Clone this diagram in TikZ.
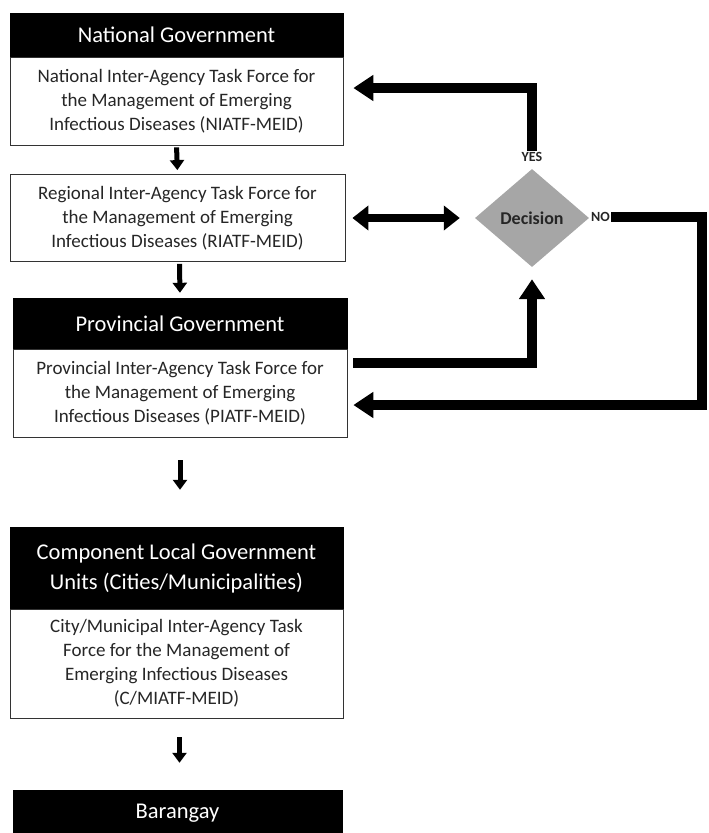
\documentclass[tikz,border=0pt]{standalone}
\usepackage{fontspec}
\setmainfont{Carlito}
\usetikzlibrary{shapes.geometric,arrows.meta,calc}
\begin{document}
\begin{tikzpicture}[x=1pt,y=-1pt,
  hdr/.style={fill=black,draw=black,text=white,inner sep=0pt,align=center,font=\fontsize{22.5}{30}\selectfont},
  body/.style={fill=white,draw=black!80,line width=0.8pt,inner sep=0pt,align=center,text=black!85,font=\fontsize{19}{24}\selectfont},
  big/.style={line width=10pt,-{Triangle[width=25pt,length=20pt]}},
  dbl/.style={line width=8pt,{Triangle[width=24pt,length=16pt]}-{Triangle[width=24pt,length=16pt]}},
  small/.style={line width=5pt,-{Triangle[width=14pt,length=10pt]}},
  lab/.style={font=\bfseries\fontsize{14}{16}\selectfont,text=black!85,inner sep=1pt}]
\useasboundingbox (0,0) rectangle (709,833);
% boxes
\node[hdr,minimum width=333pt,minimum height=44pt] (natH) at (176.5,35) {National Government};
\node[body,minimum width=333pt,minimum height=88pt] (natB) at (176.5,101) {National Inter-Agency Task Force for\\the Management of Emerging\\Infectious Diseases (NIATF-MEID)};
\node[body,minimum width=335pt,minimum height=87pt] (regB) at (177.5,218) {Regional Inter-Agency Task Force for\\the Management of Emerging\\Infectious Diseases (RIATF-MEID)};
\node[hdr,minimum width=334pt,minimum height=51pt] (provH) at (180,323.5) {Provincial Government};
\node[body,minimum width=334pt,minimum height=88pt] (provB) at (180,393) {Provincial Inter-Agency Task Force for\\the Management of Emerging\\Infectious Diseases (PIATF-MEID)};
\node[hdr,minimum width=333pt,minimum height=82pt] (compH) at (176.5,568) {Component Local Government\\Units (Cities/Municipalities)};
\node[body,minimum width=333pt,minimum height=109pt] (compB) at (176.5,663.5) {City/Municipal Inter-Agency Task\\Force for the Management of\\Emerging Infectious Diseases\\(C/MIATF-MEID)};
\node[hdr,minimum width=329pt,minimum height=46pt] (bar) at (177.5,813) {Barangay};
% decision
\node[diamond,fill=black!35,minimum width=114pt,minimum height=98pt,inner sep=0pt,font=\bfseries\fontsize{18}{20}\selectfont,text=black!85] (dec) at (532,218) {Decision};
\node[lab] (yes) at (532,157) {YES};
\node[lab,anchor=west] (no) at (590,217) {NO};
% down arrows
\draw[small,shorten <=2pt,shorten >=4pt] (natB.south) -- (regB.north);
\draw[small,shorten <=2pt,shorten >=5pt] ([xshift=2pt]regB.south) -- ([xshift=0pt]provH.north);
\draw[small,shorten <=23pt,shorten >=37pt] (provB.south) -- ([xshift=0pt]provB.south |- compH.north);
\draw[small,shorten <=19pt,shorten >=27pt] ([xshift=3pt]compB.south) -- ([xshift=3pt]compB.south |- bar.north);
% feedback arrows
\draw[big] (yes.north) |- ([xshift=10pt,yshift=13pt]natB.east);
\draw[dbl] ([xshift=7pt]regB.east) -- ([xshift=-15pt]dec.west);
\draw[big,shorten >=12pt] ([xshift=6pt,yshift=30pt]provB.east) -| (dec.south);
\coordinate (noc) at (702,217);
\draw[big] (no.east) -- (noc) |- ([xshift=6pt,yshift=-12pt]provB.east);
\end{tikzpicture}
\end{document}
